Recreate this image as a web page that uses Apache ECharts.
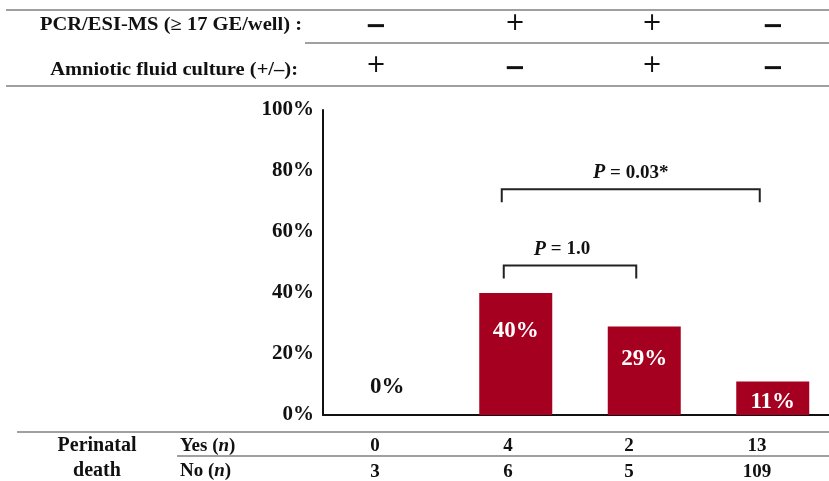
<!DOCTYPE html>
<html><head><meta charset="utf-8">
<script src="https://cdn.jsdelivr.net/npm/echarts@6/dist/echarts.min.js"></script>
<style>html,body{margin:0;padding:0;background:#fff;overflow:hidden;width:829px;height:481px}#c{width:840px;height:481px}</style>
</head><body><div id="c"></div>
<script>
// Groups by PCR/ESI-MS and amniotic fluid culture result
const groups = ['PCR-/Culture+', 'PCR+/Culture-', 'PCR+/Culture+', 'PCR-/Culture-'];
const pcrResult = ['−', '+', '+', '−'];
const cultureResult = ['+', '−', '+', '−'];
// Perinatal death rate (%) per group
const deathRate = [0, 40, 29, 11];
// Perinatal death counts
const deathYes = [0, 4, 2, 13];
const deathNo = [3, 6, 5, 109];
// Pairwise comparisons: [group a, group b, P value]
const comparisons = [[1, 2, '1.0'], [1, 3, '0.03*']];

const SERIF = '"Liberation Serif", "Times New Roman", serif';
const INK = '#111';
const RULE = '#a0a0a0';
const BAR = '#a5001f';

const chart = echarts.init(document.getElementById('c'), null, {renderer: 'canvas'});

// label placement inside each bar (distance from bar top)
const labelDist = [16, 27, 21, 9];

chart.setOption({
  animation: false,
  backgroundColor: '#fff',
  grid: {left: 323, top: 110, bottom: 66, right: 3, containLabel: false},
  xAxis: {
    type: 'category', data: groups,
    axisLine: {show: true, lineStyle: {color: INK, width: 2}},
    axisTick: {show: false}, axisLabel: {show: false}, splitLine: {show: false}
  },
  yAxis: {
    type: 'value', min: 0, max: 100, interval: 20,
    axisLine: {show: true, lineStyle: {color: INK, width: 2}},
    axisTick: {show: false}, splitLine: {show: false},
    axisLabel: {formatter: '{value}%', fontFamily: SERIF, fontWeight: 'bold', fontSize: 21, color: INK, margin: 9}
  },
  series: [{
    type: 'bar', barWidth: 73,
    itemStyle: {color: BAR},
    data: deathRate.map((v, i) => ({
      value: v,
      label: {
        show: true,
        position: v === 0 ? 'top' : 'insideTop',
        distance: labelDist[i],
        formatter: '{c}%',
        fontFamily: SERIF, fontWeight: 'bold', fontSize: 23,
        color: v === 0 ? INK : '#fff'
      }
    }))
  }]
});

// ---- annotation layer: header table, comparison brackets, counts table ----
const g = [];
const txt = (text, x, y, opt = {}, sx = 1) => g.push({
  type: 'text', silent: true, x, y, scaleX: sx,
  style: Object.assign({text, x: 0, y: 0, font: 'bold 19px ' + SERIF, fill: INK, align: 'center', verticalAlign: 'middle'}, opt)
});
const rule = (x1, y1, x2, y2) => g.push({
  type: 'line', silent: true,
  shape: {x1, y1, x2, y2}, style: {stroke: RULE, lineWidth: 2}
});

// header table
rule(6, 10, 829, 10);
rule(305, 43, 829, 43);
rule(6, 86, 829, 86);
txt('PCR/ESI-MS (≥ 17 GE/well) :', 302, 25, {align: 'right', font: 'bold 18px ' + SERIF}, 1.14);
txt('Amniotic fluid culture (+/–):', 298, 70, {align: 'right', font: 'bold 18px ' + SERIF}, 1.14);
const symX = [376, 515, 652, 773];
const sym = (s, x, y) => txt(s, x, y, s === '+'
  ? {font: '24px "DejaVu Sans"'}
  : {font: 'bold 26px "DejaVu Sans"'});
pcrResult.forEach((s, i) => sym(s, symX[i], s === '+' ? 24 : 27));
cultureResult.forEach((s, i) => sym(s, symX[i], s === '+' ? 66 : 69));

// comparison brackets
const bracketLevel = [49, 74];
const bracketShift = [[-12, -8], [-14, -13]];
const pLabelShift = [-8, 0];
comparisons.forEach(([a, b, p], k) => {
  const xa = chart.convertToPixel({xAxisIndex: 0}, a) + bracketShift[k][0];
  const xb = chart.convertToPixel({xAxisIndex: 0}, b) + bracketShift[k][1];
  const yTop = chart.convertToPixel({yAxisIndex: 0}, bracketLevel[k]);
  const yLeg = yTop + 13;
  g.push({
    type: 'polyline', silent: true,
    shape: {points: [[xa, yLeg], [xa, yTop], [xb, yTop], [xb, yLeg]]},
    style: {stroke: '#222', lineWidth: 2, fill: null}
  });
  g.push({
    type: 'text', silent: true,
    style: {
      text: '{i|P}{b| = ' + p + '}', x: (xa + xb) / 2 + pLabelShift[k], y: yTop - 16,
      align: 'center', verticalAlign: 'middle',
      rich: {
        i: {font: 'italic bold 20px ' + SERIF, fill: INK},
        b: {font: 'bold 19px ' + SERIF, fill: INK}
      }
    }
  });
});

// counts table
rule(17, 432, 829, 432);
rule(177, 456, 829, 456);
txt('Perinatal', 97, 446, {font: 'bold 20px ' + SERIF});
txt('death', 97, 471, {font: 'bold 20px ' + SERIF});
const rowHead = (label, y) => g.push({
  type: 'text', silent: true,
  style: {
    text: '{b|' + label + ' (}{i|n}{b|)}', x: 180, y, align: 'left', verticalAlign: 'middle',
    rich: {
      b: {font: 'bold 19px ' + SERIF, fill: INK},
      i: {font: 'italic bold 19px ' + SERIF, fill: INK}
    }
  }
});
rowHead('Yes', 446);
rowHead('No', 471);
const cntX = [375, 508, 629, 757];
deathYes.forEach((v, i) => txt(String(v), cntX[i], 446));
deathNo.forEach((v, i) => txt(String(v), cntX[i], 472));

chart.setOption({graphic: {elements: g}});
</script>
</body></html>
